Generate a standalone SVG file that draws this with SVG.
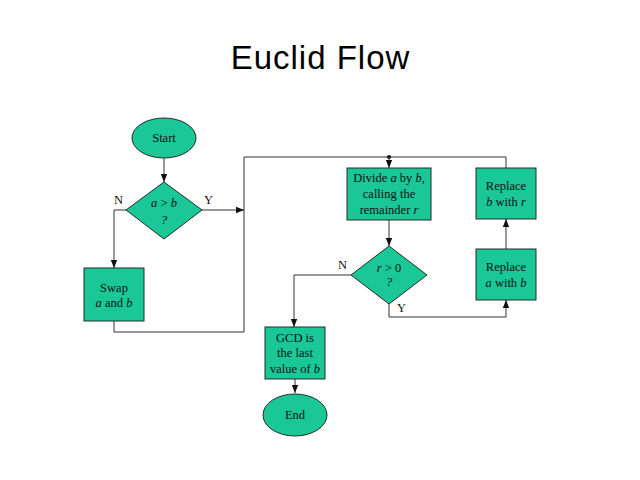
<svg xmlns="http://www.w3.org/2000/svg" width="640" height="480" viewBox="0 0 640 480">
<style>
.n{fill:#19C797;stroke:#2a2a2a;stroke-width:1}
.t{font-family:"Liberation Serif","Times New Roman",serif;font-size:12.5px;fill:#111;text-anchor:middle}
.c{fill:none;stroke:#333;stroke-width:1}
.l{font-family:"Liberation Serif","Times New Roman",serif;font-size:12.5px;fill:#111}
</style>
<defs>
<marker id="ah" viewBox="0 0 8 8" refX="8" refY="4" markerWidth="8" markerHeight="8" markerUnits="userSpaceOnUse" orient="auto">
<path d="M0,0.8 L8,4 L0,7.2 Z" fill="#111"/>
</marker>
</defs>
<rect width="640" height="480" fill="#fff"/>
<text x="320.5" y="69" font-family="'Liberation Sans',Arial,sans-serif" font-size="33" letter-spacing="1" text-anchor="middle" fill="#000">Euclid Flow</text>
<g id="connectors">
<path class="c" d="M164,158 V182" marker-end="url(#ah)"/>
<path class="c" d="M126,210 H114 V268" marker-end="url(#ah)"/>
<path class="c" d="M202,210 H244" marker-end="url(#ah)"/>
<path class="c" d="M114,321 V332 H244 V157 H506 V168"/>
<circle cx="389" cy="157" r="2" fill="#111"/>
<path class="c" d="M389,157 V168" marker-end="url(#ah)"/>
<path class="c" d="M389,220 V246" marker-end="url(#ah)"/>
<path class="c" d="M351,275 H294 V327" marker-end="url(#ah)"/>
<path class="c" d="M295,379 V393" marker-end="url(#ah)"/>
<path class="c" d="M389,304 V317 H506 V300" marker-end="url(#ah)"/>
<path class="c" d="M506,249 V219" marker-end="url(#ah)"/>
<text class="l" x="114" y="204">N</text>
<text class="l" x="204" y="204">Y</text>
<text class="l" x="338" y="269">N</text>
<text class="l" x="397" y="312">Y</text>
</g>
<g id="start">
<ellipse class="n" cx="164" cy="138" rx="32" ry="20"/>
<text class="t" x="164" y="142">Start</text>
</g>
<g id="cmp">
<polygon class="n" points="164,182 202,210 164,239 126,210"/>
<text class="t" x="164" y="207"><tspan font-style="italic">a</tspan> &gt; <tspan font-style="italic">b</tspan></text>
<text class="t" x="164" y="224" font-style="italic">?</text>
</g>
<g id="swap">
<rect class="n" x="84" y="268" width="60" height="53"/>
<text class="t" x="114" y="292">Swap</text>
<text class="t" x="114" y="307"><tspan font-style="italic">a</tspan> and <tspan font-style="italic">b</tspan></text>
</g>
<g id="divide">
<rect class="n" x="347" y="168" width="84" height="52"/>
<text class="t" x="389" y="182">Divide <tspan font-style="italic">a</tspan> by <tspan font-style="italic">b</tspan>,</text>
<text class="t" x="389" y="198">calling the</text>
<text class="t" x="389" y="214">remainder <tspan font-style="italic">r</tspan></text>
</g>
<g id="rtest">
<polygon class="n" points="389,246 427,275 389,304 351,275"/>
<text class="t" x="389" y="272"><tspan font-style="italic">r</tspan> &gt; 0</text>
<text class="t" x="389" y="286" font-style="italic">?</text>
</g>
<g id="gcd">
<rect class="n" x="265" y="327" width="60" height="52"/>
<text class="t" x="295" y="342">GCD is</text>
<text class="t" x="295" y="357">the last</text>
<text class="t" x="295" y="373">value of <tspan font-style="italic">b</tspan></text>
</g>
<g id="end">
<ellipse class="n" cx="295" cy="415" rx="32" ry="21"/>
<text class="t" x="295" y="419">End</text>
</g>
<g id="replacea">
<rect class="n" x="476" y="249" width="60" height="51"/>
<text class="t" x="506" y="271">Replace</text>
<text class="t" x="506" y="287"><tspan font-style="italic">a</tspan> with <tspan font-style="italic">b</tspan></text>
</g>
<g id="replaceb">
<rect class="n" x="476" y="168" width="60" height="51"/>
<text class="t" x="506" y="190">Replace</text>
<text class="t" x="506" y="206"><tspan font-style="italic">b</tspan> with <tspan font-style="italic">r</tspan></text>
</g>
</svg>
